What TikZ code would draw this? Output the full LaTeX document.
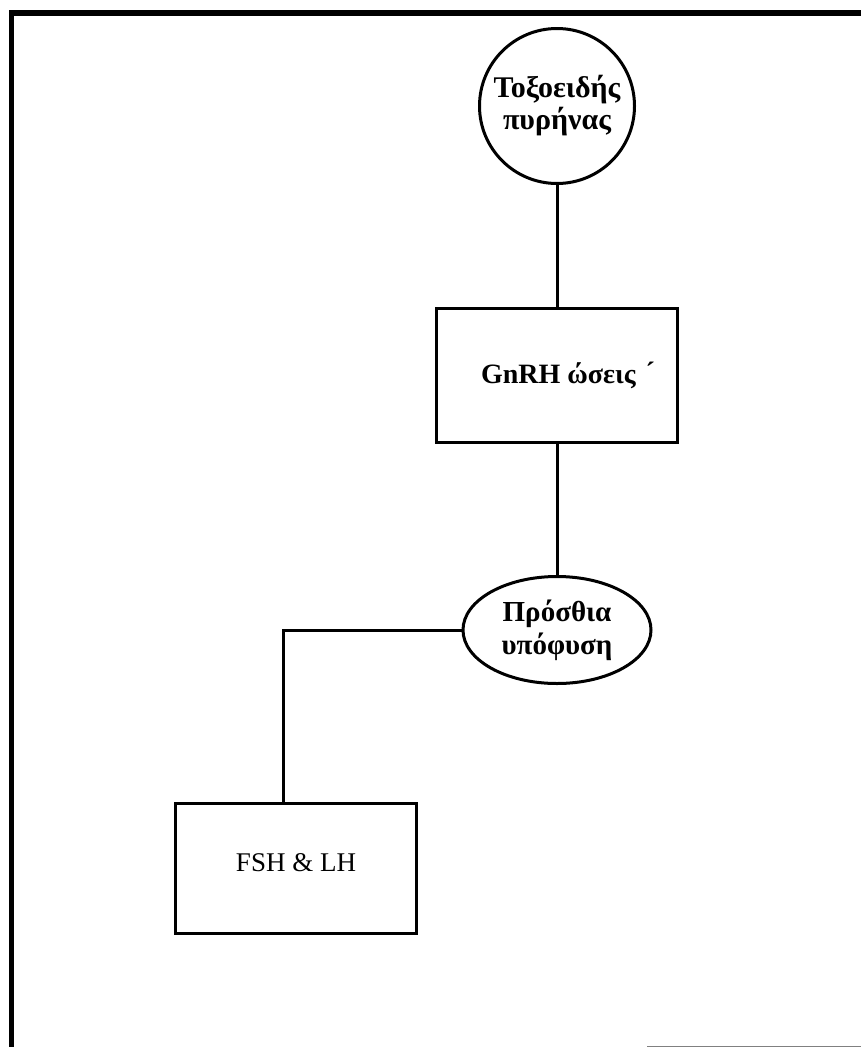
\documentclass[tikz,border=0pt]{standalone}
\usepackage{fontspec}
\setmainfont{Liberation Serif}
\usetikzlibrary{positioning, shapes.geometric}

\begin{document}
\begin{tikzpicture}[
  x=1pt, y=-1pt,
  every node/.style={font=\fontsize{30}{32}\selectfont, align=center, inner sep=0pt},
  shp/.style={draw, line width=3pt},
  box/.style={shp, rectangle, minimum width=241pt},
  frm/.style={line width=5.5pt},
  lnk/.style={line width=3pt}
]
  \useasboundingbox (0,0) rectangle (861,1047);

  % frame
  \draw[frm] (11.5,1047) -- (11.5,13) -- (861,13);
  \draw[gray, line width=1pt] (647,1046) -- (861,1046);

  \node[shp, circle, minimum size=155pt, font=\fontsize{30}{32}\selectfont\bfseries] (tox) at (557,106)
    {Τοξοειδής\\πυρήνας};
  \node[box, minimum height=134pt, below=122pt of tox, font=\fontsize{28}{33}\selectfont\bfseries] (gnrh)
    {\hspace{22pt}GnRH ώσεις\hspace{10pt}\raisebox{2pt}{´}};
  \node[shp, ellipse, minimum width=188pt, minimum height=107pt, below=131pt of gnrh,
    font=\fontsize{29}{33}\selectfont\bfseries] (hyp) {\raisebox{-3pt}{Πρόσθια}\\\raisebox{-3pt}{υπόφυση}};
  \node[box, minimum height=130pt, font=\fontsize{27}{30}\selectfont] (fsh) at (296,868.5)
    {\raisebox{12pt}{FSH \& LH}};

  \draw[lnk] (tox) -- (gnrh);
  \draw[lnk] (gnrh) -- (hyp);
  \draw[lnk] (hyp.west) -| ([xshift=-13pt]fsh.north);
\end{tikzpicture}
\end{document}
